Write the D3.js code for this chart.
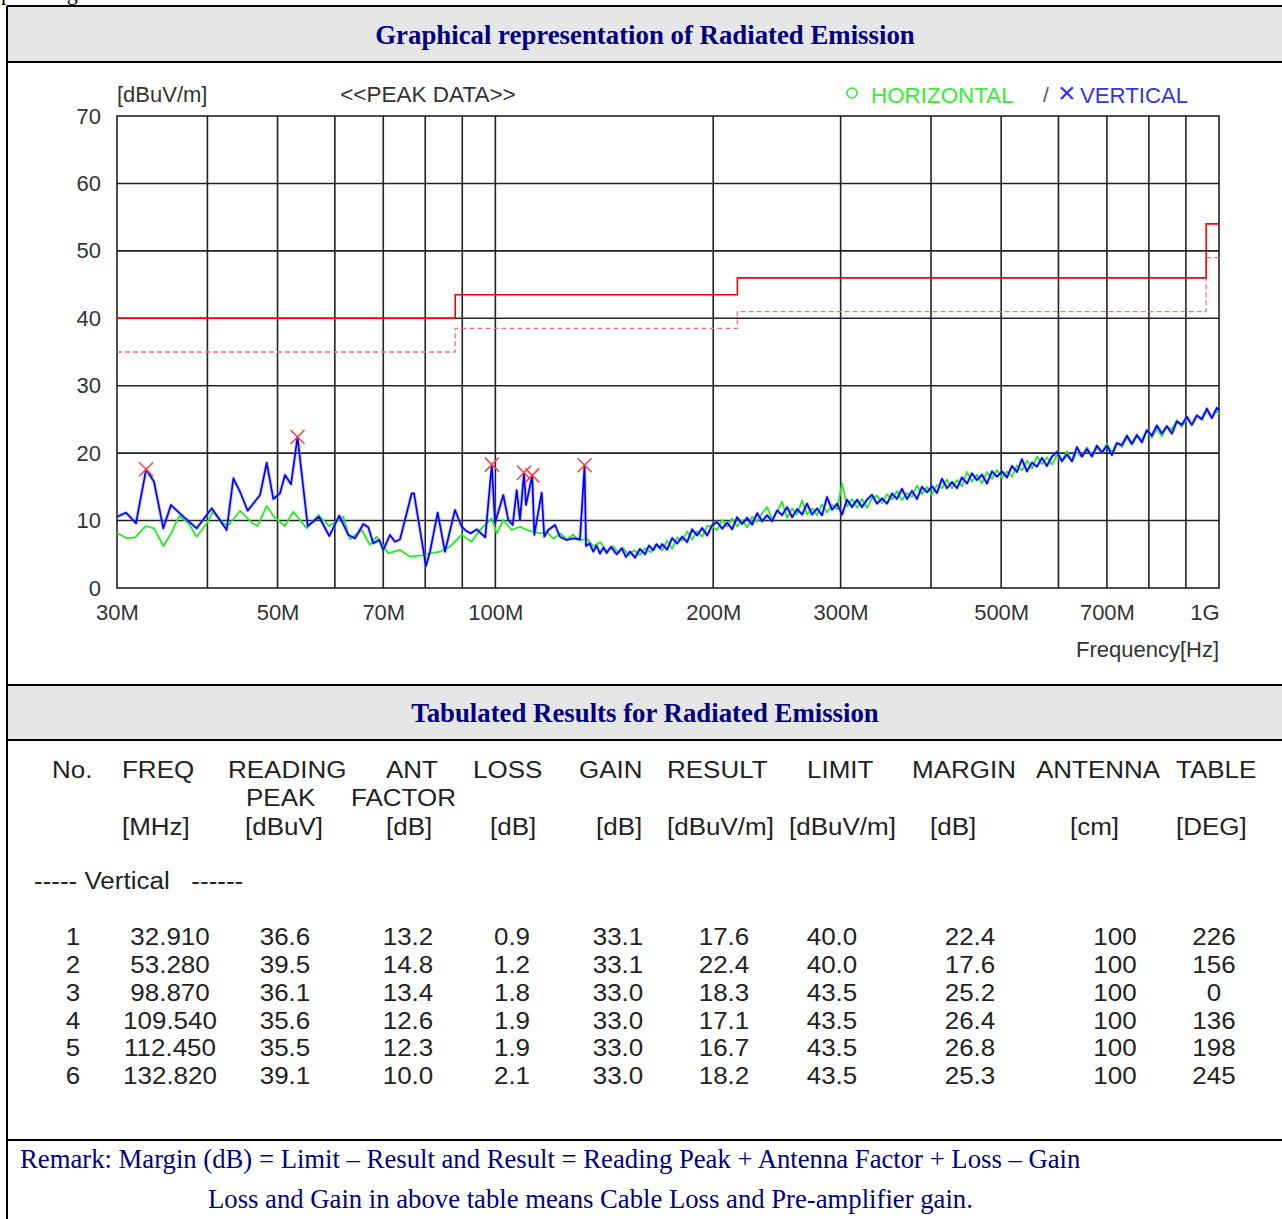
<!DOCTYPE html>
<html>
<head>
<meta charset="utf-8">
<script src="https://cdn.jsdelivr.net/npm/d3@7"></script>
<style>
html,body{margin:0;padding:0;background:#fff;overflow:hidden;}
svg{display:block;}
</style>
</head>
<body>
<script>
// ---------- DATA ----------
const yTicks = [0,10,20,30,40,50,60,70];
const gridFreqs = [40,50,60,70,80,90,100,200,300,400,500,600,700,800,900];
const xTickFreqs = [30,50,70,100,200,300,500,700,1000];
const xTickLabels = ["30M","50M","70M","100M","200M","300M","500M","700M","1G"];

// limit line (step after) and margin line
const limitFreqs = [30,88,216,960,1000];
const limitVals  = [40,43.5,46,54,54];
const marginVals = [35,38.5,41,49,49];

// Vertical (blue) trace, low band [MHz, dBuV/m]
const vertLow = [[30,10.57],[30.87,11.17],[31.87,9.6],[32.91,17.6],[33.75,15.76],[34.76,8.85],[35.62,12.31],[37.05,10.57],[38.66,8.85],[40.56,11.82],[42.53,8.6],[43.44,16.27],[44.37,14.28],[45.47,11.46],[47.29,13.79],[48.31,18.58],[49.33,13.2],[50.39,14.04],[51.2,16.76],[52.19,15.38],[53.28,22.4],[55.04,9.19],[57.05,10.57],[58.95,7.71],[60.86,10.72],[62.63,7.86],[63.98,7.37],[65.69,9.49],[66.74,9.0],[67.81,6.63],[69.12,7.12],[70.0,5.64],[71.51,7.86],[72.66,6.87],[73.83,7.22],[76.63,14.04],[77.19,14.04],[80.19,3.26],[81.22,5.38],[83.23,11.17],[85.18,5.38],[87.94,11.57],[89.83,9.09],[91.07,8.5],[92.44,8.11],[94.23,8.7],[96.84,7.52],[98.87,18.3],[99.88,9.6],[102.55,13.79],[104.2,10.08],[105.67,9.34],[107.02,14.53],[108.15,10.08],[109.54,17.1],[110.23,12.31],[112.45,16.7],[113.18,7.86],[115.87,14.13],[116.84,7.61],[118.33,8.6],[120.88,9.34],[122.82,7.61],[125.47,7.12],[128.14,7.37],[130.9,7.22],[132.82,18.2],[133.42,6.23],[135.0,6.6],[136.55,5.4],[138.0,6.3],[139.49,5.1],[141.0,6.0],[142.5,5.2],[144.5,6.1],[147.1,5.0],[149.5,5.9],[151.5,4.6],[153.5,5.4],[156.0,4.5],[158.4,5.8],[161.0,5.0],[163.0,6.3],[165.3,5.6],[167.0,6.5],[168.9,5.9]];

// Horizontal (green) trace, low band [MHz, dBuV/m]
const horizLow = [[30,8.2],[30.94,7.37],[31.77,7.52],[32.87,9.19],[33.75,8.85],[34.77,6.23],[35.65,8.11],[36.55,10.68],[37.68,9.6],[38.66,7.61],[39.93,9.6],[40.69,11.32],[42.07,9.6],[42.77,9.3],[44.37,11.46],[46.19,9.6],[46.91,9.19],[48.31,12.16],[49.44,10.57],[51.2,9.19],[52.57,11.32],[54.87,8.85],[56.92,10.83],[58.95,9.19],[61.64,10.57],[62.97,7.22],[65.36,8.6],[67.11,6.38],[68.55,7.61],[71.14,5.15],[73.83,5.64],[76.26,4.64],[79.5,4.89],[81.35,5.15],[83.84,5.38],[86.46,6.12],[89.83,7.86],[92.73,6.87],[95.21,8.6],[98.83,10.34],[100.42,8.11],[102.55,10.08],[105.33,8.6],[108.15,9.09],[110.48,8.6],[115.24,8.11],[118,8.3],[120.23,7.3],[123,8.1],[125.47,7.2],[128,7.9],[130.9,7.0],[133.5,7.4],[136.55,6.2],[139.5,6.8],[142.5,5.5],[145.5,6.2],[148,5.2],[150.2,5.9],[153,4.9],[155.5,5.6],[158.4,4.9],[161,5.9],[164,5.3],[166.5,6.4],[168.9,5.8]];

// High band sweep frequencies [MHz]
const hiFreqs = [170.0,172.7,175.5,178.3,181.2,184.1,187.0,190.0,193.1,196.2,199.3,202.5,205.8,209.1,212.4,215.8,219.3,222.8,226.4,230.0,233.7,237.4,241.2,245.1,249.0,253.0,257.1,261.2,265.4,269.6,273.9,278.3,282.8,287.3,291.9,296.6,301.4,306.2,311.1,316.1,321.1,326.3,331.5,336.8,342.2,347.7,353.3,358.9,364.7,370.5,376.5,382.5,388.6,394.9,401.2,407.6,414.2,420.8,427.6,434.4,441.4,448.5,455.6,462.9,470.4,477.9,485.6,493.4,501.3,509.3,517.5,525.8,534.2,542.8,551.5,560.3,569.3,578.4,587.7,597.1,606.7,616.4,626.3,636.3,646.5,656.9,667.4,678.1,689.0,700.0,711.2,722.6,734.2,746.0,757.9,770.1,782.4,794.9,807.7,820.6,833.8,847.1,860.7,874.5,888.5,902.7,917.2,931.9,946.8,962.0,977.4,993.0,1000.0];

const vertHi = [6.5,5.7,7.4,6.6,7.6,6.8,8.7,7.8,8.9,7.8,9.3,9.8,8.8,9.7,8.7,10.5,9.5,10.4,9.4,11.1,9.9,10.8,9.9,11.5,10.8,12.0,10.5,11.7,10.9,12.5,10.9,11.8,10.8,13.5,11.6,12.5,10.9,13.1,12.0,13.1,12.0,13.1,13.8,12.5,13.3,12.5,14.0,13.2,14.7,13.2,14.4,13.2,15.0,14.2,15.1,14.1,16.2,14.8,15.7,14.8,16.4,15.5,17.0,16.0,16.8,15.5,17.3,16.5,17.3,16.4,18.1,17.2,19.1,17.3,18.6,18.0,19.3,18.1,19.5,20.2,18.8,19.8,18.8,20.9,19.5,20.6,19.5,21.1,20.1,21.1,19.7,21.5,21.2,22.6,21.4,22.7,21.6,23.4,22.6,24.1,22.9,24.0,22.9,24.7,24.2,25.4,24.2,25.6,25.0,26.6,25.2,26.7,26.5];

const horizHi = [5.6,7.0,5.8,7.5,7.0,8.4,7.2,8.4,7.6,9.2,9.1,8.6,10.1,9.1,10.3,9.1,10.1,9.0,10.6,9.8,11.1,12.0,10.2,11.3,12.8,10.4,11.8,10.9,13.0,10.9,11.8,10.8,12.4,11.2,12.3,11.7,15.5,12.1,13.2,11.9,13.2,11.9,13.3,13.7,12.6,13.9,13.1,14.4,13.0,14.1,13.5,15.2,13.9,15.0,13.8,15.3,14.8,16.1,14.8,16.0,15.1,17.2,15.8,16.8,15.5,17.2,16.2,17.5,16.3,17.3,16.5,18.2,17.4,18.9,17.7,19.5,18.4,19.4,18.3,19.7,18.9,20.3,18.8,20.1,19.5,20.9,19.6,20.8,20.1,21.4,20.1,21.5,20.9,22.3,21.2,22.5,22.0,23.4,22.3,23.6,22.5,24.0,23.5,24.9,23.9,25.2,24.2,25.5,25.2,26.3,25.3,26.3,25.8];

// Table
const tableCols = ["No.","FREQ","READING","ANT","LOSS","GAIN","RESULT","LIMIT","MARGIN","ANTENNA","TABLE"];
const rowNo   = [1,2,3,4,5,6];
const freqMHz = ["32.910","53.280","98.870","109.540","112.450","132.820"];
const reading = ["36.6","39.5","36.1","35.6","35.5","39.1"];
const antFac  = ["13.2","14.8","13.4","12.6","12.3","10.0"];
const loss    = ["0.9","1.2","1.8","1.9","1.9","2.1"];
const gain    = ["33.1","33.1","33.0","33.0","33.0","33.0"];
const result  = ["17.6","22.4","18.3","17.1","16.7","18.2"];
const limit   = ["40.0","40.0","43.5","43.5","43.5","43.5"];
const margin  = ["22.4","17.6","25.2","26.4","26.8","25.3"];
const antenna = ["100","100","100","100","100","100"];
const tableDeg= ["226","156","0","136","198","245"];

// ---------- DRAW ----------
const W = 1282, H = 1219;
const svg = d3.select("body").append("svg").attr("width", W).attr("height", H);
const SANS = "'Liberation Sans', Arial, sans-serif";
const SERIF = "'Liberation Serif', 'Times New Roman', serif";
const NAVY = "#000080";

// cut-off text at very top (as in the reference)
svg.append("text").attr("x", 1).attr("y", 0).attr("font-family", SERIF).attr("font-size", 22)
  .attr("letter-spacing", 1.2).attr("fill","#000").text("plotting");

// frame & header bars
svg.append("rect").attr("x", 7).attr("y", 7).attr("width", W - 7).attr("height", 55).attr("fill", "#e6e6e6");
svg.append("rect").attr("x", 7).attr("y", 686).attr("width", W - 7).attr("height", 54).attr("fill", "#e6e6e6");
const frameLines = [[7,6,W,6],[7,62,W,62],[7,685,W,685],[7,740,W,740],[7,1140,W,1140],[7,6,7,H]];
svg.selectAll("line.frame").data(frameLines).enter().append("line")
  .attr("x1", d=>d[0]).attr("y1", d=>d[1]).attr("x2", d=>d[2]).attr("y2", d=>d[3])
  .attr("stroke", "#000").attr("stroke-width", 2);

svg.append("text").attr("x", 645).attr("y", 44).attr("text-anchor","middle")
  .attr("font-family", SERIF).attr("font-weight","bold").attr("font-size", 26.8).attr("fill", NAVY)
  .text("Graphical representation of Radiated Emission");
svg.append("text").attr("x", 645).attr("y", 722).attr("text-anchor","middle")
  .attr("font-family", SERIF).attr("font-weight","bold").attr("font-size", 26.8).attr("fill", NAVY)
  .text("Tabulated Results for Radiated Emission");

// scales
const x = d3.scaleLog().domain([30, 1000]).range([117, 1219]);
const y = d3.scaleLinear().domain([0, 70]).range([588, 116]);

const plot = svg.append("g");
// gridlines
plot.selectAll("line.vg").data(gridFreqs).enter().append("line")
  .attr("x1", d=>x(d)).attr("x2", d=>x(d)).attr("y1", y(70)).attr("y2", y(0))
  .attr("stroke", "#222").attr("stroke-width", 1.6);
plot.selectAll("line.hg").data(yTicks.slice(1, -1)).enter().append("line")
  .attr("x1", x(30)).attr("x2", x(1000)).attr("y1", d=>y(d)).attr("y2", d=>y(d))
  .attr("stroke", "#222").attr("stroke-width", 1.6);
plot.append("rect").attr("x", x(30)).attr("y", y(70)).attr("width", x(1000)-x(30)).attr("height", y(0)-y(70))
  .attr("fill","none").attr("stroke","#222").attr("stroke-width",1.6);

// axes (labels only)
const yAxis = d3.axisLeft(y).tickValues(yTicks).tickSize(0).tickPadding(16).tickFormat(d3.format("d"));
const gy = svg.append("g").attr("transform", `translate(${x(30)},0)`).call(yAxis);
gy.select(".domain").remove();
gy.selectAll("text").attr("font-family", SANS).attr("font-size", 22).attr("fill", "#333");

const xAxis = d3.axisBottom(x).tickValues(xTickFreqs).tickSize(0).tickPadding(16)
  .tickFormat((d,i)=>xTickLabels[i]);
const gx = svg.append("g").attr("transform", `translate(0,${y(0)})`).call(xAxis);
gx.select(".domain").remove();
gx.selectAll("text").attr("font-family", SANS).attr("font-size", 22).attr("fill", "#333")
  .attr("text-anchor", d => d === 1000 ? "end" : "middle");

svg.append("text").attr("x", 1219).attr("y", 657).attr("text-anchor","end")
  .attr("font-family", SANS).attr("font-size", 22).attr("fill","#333").text("Frequency[Hz]");
svg.append("text").attr("x", 117).attr("y", 102)
  .attr("font-family", SANS).attr("font-size", 22).attr("fill","#333").text("[dBuV/m]");
svg.append("text").attr("x", 428).attr("y", 102).attr("text-anchor","middle")
  .attr("font-family", SANS).attr("font-size", 22.5).attr("fill","#333").text("<<PEAK DATA>>");

// legend
svg.append("circle").attr("cx", 852).attr("cy", 93).attr("r", 5).attr("fill","none").attr("stroke","#33ee33").attr("stroke-width",1.6);
svg.append("text").attr("x", 871).attr("y", 103).attr("font-family", SANS).attr("font-size", 22.4).attr("fill","#33ee33").text("HORIZONTAL");
svg.append("text").attr("x", 1043).attr("y", 102).attr("font-family", SANS).attr("font-size", 21).attr("fill","#555").text("/");
svg.append("text").attr("x", 1058).attr("y", 103).attr("font-family", SANS).attr("font-size", 30).attr("font-weight", 300).attr("fill","#3333ee").text("×");
svg.append("text").attr("x", 1080).attr("y", 103).attr("font-family", SANS).attr("font-size", 22.2).attr("fill","#3333ee").text("VERTICAL");

// limit lines
const stepLine = d3.line().x(d=>x(d[0])).y(d=>y(d[1])).curve(d3.curveStepAfter);
const limitPts = limitFreqs.map((f,i)=>[f, limitVals[i]]);
const marginPts = limitFreqs.map((f,i)=>[f, marginVals[i]]);
plot.append("path").attr("d", stepLine(marginPts)).attr("fill","none")
  .attr("stroke","#ff7070").attr("stroke-width",1.3).attr("stroke-dasharray","5,3");
plot.append("path").attr("d", stepLine(limitPts)).attr("fill","none")
  .attr("stroke","#ff0000").attr("stroke-width",1.6);

// traces
const line = d3.line().x(d=>x(d[0])).y(d=>y(d[1]));
const horizAll = horizLow.concat(hiFreqs.map((f,i)=>[f, horizHi[i]]));
const vertAll = vertLow.concat(hiFreqs.map((f,i)=>[f, vertHi[i]]));
plot.append("path").attr("d", line(horizAll)).attr("fill","none")
  .attr("stroke","#22ee22").attr("stroke-width",1.8).attr("stroke-linejoin","round");
plot.append("path").attr("d", line(vertAll)).attr("fill","none")
  .attr("stroke","#8080ff").attr("stroke-width",3.6).attr("stroke-opacity",0.4).attr("stroke-linejoin","round");
plot.append("path").attr("d", line(vertAll)).attr("fill","none")
  .attr("stroke","#0000ff").attr("stroke-width",1.7).attr("stroke-linejoin","round");

// peak markers
const peaks = freqMHz.map((f,i)=>[+f, +result[i]]);
const mk = plot.selectAll("g.mk").data(peaks).enter().append("g")
  .attr("transform", d=>`translate(${x(d[0])},${y(d[1])})`);
mk.append("path").attr("d","M-7,-7L7,7M-7,7L7,-7").attr("stroke","#ff4040").attr("stroke-width",1.5).attr("fill","none");

// ---------- TABLE ----------
// glyphs are tall and narrow in the reference: draw at 23px, stretched horizontally
const SX = 1.13;
const tt = svg.append("g").attr("font-family", SANS).attr("font-size", 23).attr("fill", "#222");
function tText(xp, yp, s, anchor) {
  return tt.append("text").attr("transform", `translate(${xp},${yp}) scale(${SX},1)`)
    .attr("text-anchor", anchor || "start").text(s);
}
const hdr1X = [52,122,228,386,473,579,667,807,912,1036,1176];
tableCols.forEach((c,i)=>tText(hdr1X[i], 778, c));
const hdr2 = [["PEAK",246],["FACTOR",351]];
hdr2.forEach(d=>tText(d[1], 806, d[0]));
const hdr3 = [["[MHz]",122],["[dBuV]",245],["[dB]",386],["[dB]",490],["[dB]",596],["[dBuV/m]",667],["[dBuV/m]",789],["[dB]",930],["[cm]",1070],["[DEG]",1176]];
hdr3.forEach(d=>tText(d[1], 835, d[0]));
tText(34, 889, "----- Vertical   ------").style("white-space","pre");

const cols = [rowNo, freqMHz, reading, antFac, loss, gain, result, limit, margin, antenna, tableDeg];
const colCenters = [73,170,285,408,512,618,724,832,970,1115,1214];
const rowY = [945,973,1001,1029,1056,1084];
cols.forEach((col, ci) => {
  col.forEach((v, ri) => tText(colCenters[ci], rowY[ri], v, "middle"));
});

// remarks
svg.append("text").attr("x", 20).attr("y", 1168).attr("font-family", SERIF).attr("font-size", 26.7).attr("fill", NAVY)
  .text("Remark: Margin (dB) = Limit \u2013 Result and Result = Reading Peak + Antenna Factor + Loss \u2013 Gain");
svg.append("text").attr("x", 208).attr("y", 1208).attr("font-family", SERIF).attr("font-size", 26.7).attr("fill", NAVY)
  .text("Loss and Gain in above table means Cable Loss and Pre-amplifier gain.");
</script>
</body>
</html>
